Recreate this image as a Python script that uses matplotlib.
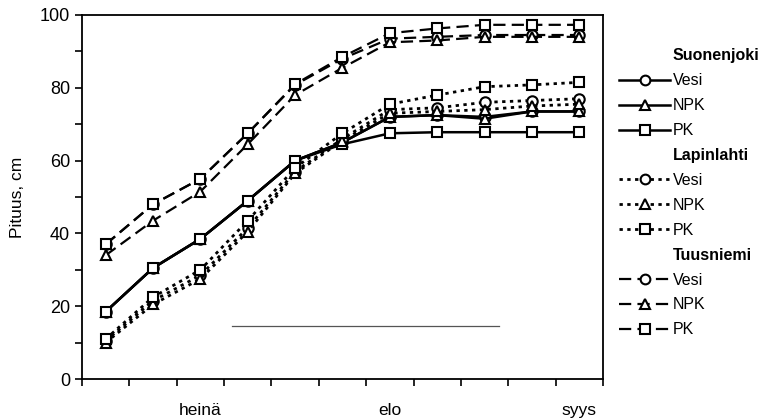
import numpy as np
import matplotlib
matplotlib.use("Agg")
import matplotlib.pyplot as plt
from matplotlib.lines import Line2D

# mittauskerrat (11 kpl), kuukausien nimet akselilla
obs = np.arange(11) + 0.5
month_labels = ["heinä", "elo", "syys"]
month_pos = [2.5, 6.5, 10.5]

sites = ["Suonenjoki", "Lapinlahti", "Tuusniemi"]
treatments = ["Vesi", "NPK", "PK"]

suon_vesi = [18.5, 30.5, 38.5, 49, 60, 65, 72, 72.5, 72, 73.5, 73.5]
suon_npk = [18.5, 30.5, 38.5, 49, 60, 65, 72, 72.5, 71.5, 73.5, 73.5]
suon_pk = [18.5, 30.5, 38.5, 49, 60, 64.5, 67.5, 67.8, 67.8, 67.8, 67.8]

lap_vesi = [10.5, 21.5, 28.5, 41.5, 57, 66, 74, 74.5, 76, 76.5, 77]
lap_npk = [10, 20.5, 27.5, 40.5, 56.5, 65.5, 73, 73.5, 74, 75, 75.5]
lap_pk = [11, 22.5, 30, 43.5, 58, 67.5, 75.5, 78, 80.3, 80.8, 81.5]

tuus_vesi = [37, 48, 55, 67.5, 80.8, 88, 93.5, 94, 94.5, 94.5, 94.5]
tuus_npk = [34, 43.5, 51.5, 64.5, 78, 85.5, 92.5, 93, 94, 94, 94]
tuus_pk = [37, 48, 55, 67.5, 81, 88.5, 95, 96.3, 97.3, 97.3, 97.3]

# irrallinen vaakaviiva kuvassa
stray_x = [3.17, 8.8]
stray_y = [14.6, 14.6]

data = {
    "Suonenjoki": [suon_vesi, suon_npk, suon_pk],
    "Lapinlahti": [lap_vesi, lap_npk, lap_pk],
    "Tuusniemi": [tuus_vesi, tuus_npk, tuus_pk],
}
styles = {
    "Suonenjoki": dict(linestyle="-", linewidth=1.8),
    "Lapinlahti": dict(linestyle=(0, (1.2, 1.6)), linewidth=2.0),
    "Tuusniemi": dict(linestyle=(0, (5.5, 2.8)), linewidth=1.6),
}
markers = ["o", "^", "s"]

plt.rcParams["font.family"] = ["Liberation Sans", "DejaVu Sans"]

fig = plt.figure(figsize=(7.71, 4.2), dpi=100)
ax = fig.add_axes([0.1064, 0.0976, 0.6756, 0.8667])

handles = []
labels = []
for site in sites:
    handles.append(Line2D([], [], linestyle="none"))
    labels.append(site)
    for vals, tr, mk in zip(data[site], treatments, markers):
        ax.plot(obs, vals, color="black", marker=mk, markersize=7.5,
                markerfacecolor="white", markeredgecolor="black",
                markeredgewidth=1.5, **styles[site])
        handles.append(Line2D([], [], color="black", marker=mk, markersize=7,
                              markerfacecolor="white", markeredgewidth=1.5,
                              **styles[site]))
        labels.append(tr)

ax.plot(stray_x, stray_y, color="#555555", linewidth=0.9)

ax.set_xlim(0, 11)
ax.set_ylim(0, 100)
ax.set_xticks(np.arange(12))
ax.set_xticklabels([])
ax.set_xticks(month_pos, minor=True)
ax.set_xticklabels(month_labels, minor=True)
ax.tick_params(axis="x", which="major", direction="out", length=5, width=1.2)
ax.tick_params(axis="x", which="minor", length=0, pad=17, labelsize=12.5)
ax.set_yticks(np.arange(0, 101, 20))
ax.set_yticks(np.arange(10, 100, 20), minor=True)
ax.tick_params(axis="y", which="both", direction="out", length=5, width=1.2,
               labelsize=13)
for s in ax.spines.values():
    s.set_linewidth(1.3)
ax.set_ylabel("Pituus, cm", fontsize=12.5, labelpad=11)

leg = fig.legend(handles, labels, loc="upper left",
                 bbox_to_anchor=(0.795, 0.9), frameon=False, fontsize=11.5,
                 handlelength=3.2, handletextpad=0.15, labelspacing=0.62,
                 borderaxespad=0)
for txt, lab in zip(leg.get_texts(), labels):
    if lab in sites:
        txt.set_fontweight("bold")

fig.savefig("out.png", dpi=100)
